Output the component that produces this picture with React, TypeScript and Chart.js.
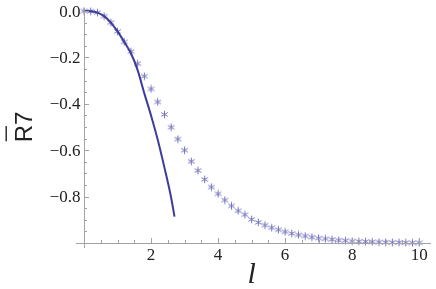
import React, { useEffect, useRef } from "react";
import { Chart, registerables } from "chart.js";

Chart.register(...registerables);

// Asterisk series (numerical R̄7 vs l)
const pointL = [
  0, 0.2, 0.4, 0.6, 0.8, 1.0, 1.2, 1.4, 1.6, 1.8,
  2.0, 2.2, 2.4, 2.6, 2.8, 3.0, 3.2, 3.4, 3.6, 3.8,
  4.0, 4.2, 4.4, 4.6, 4.8, 5.0, 5.2, 5.4, 5.6, 5.8,
  6.0, 6.2, 6.4, 6.6, 6.8, 7.0, 7.2, 7.4, 7.6, 7.8,
  8.0, 8.2, 8.4, 8.6, 8.8, 9.0, 9.2, 9.4, 9.6, 9.8, 10.0,
];
const pointR = [
  0, -0.001, -0.007, -0.022, -0.05, -0.088, -0.133, -0.175, -0.227, -0.281,
  -0.336, -0.392, -0.446, -0.501, -0.552, -0.6, -0.648, -0.688, -0.726, -0.759,
  -0.788, -0.815, -0.84, -0.861, -0.878, -0.898, -0.911, -0.923, -0.934, -0.943,
  -0.952, -0.959, -0.965, -0.97, -0.975, -0.979, -0.982, -0.985, -0.988, -0.99,
  -0.992, -0.993, -0.994, -0.995, -0.996, -0.997, -0.9975, -0.998, -0.9985, -0.999, -0.999,
];

// Solid curve (approximation)
const lineL = [0, 0.2, 0.4, 0.6, 0.8, 1.0, 1.2, 1.4, 1.6, 1.8, 2.0, 2.2, 2.4, 2.6, 2.7];
const lineR = [0, -0.001, -0.007, -0.022, -0.05, -0.088, -0.133, -0.182, -0.255, -0.355, -0.45, -0.555, -0.675, -0.805, -0.886];

const xTickValues = [2, 4, 6, 8, 10];
const xTickLabels = ["2", "4", "6", "8", "10"];
const xMinorTicks = [0.5, 1, 1.5, 2.5, 3, 3.5, 4.5, 5, 5.5, 6.5, 7, 7.5, 8.5, 9, 9.5];
const yTickValues = [0, -0.2, -0.4, -0.6, -0.8];
const yTickLabels = ["0.0", "\u22120.2", "\u22120.4", "\u22120.6", "\u22120.8"];
const yMinorTicks = [-0.05, -0.1, -0.15, -0.25, -0.3, -0.35, -0.45, -0.5, -0.55, -0.65, -0.7, -0.75, -0.85, -0.9, -0.95];

const LINE_COLOR = "#3c3c9a";
const STAR_COLOR = "#7474bd";
const AXIS_COLOR = "#a3a3a3";
const SERIF = '"Liberation Serif", "Times New Roman", Times, "DejaVu Serif", serif';
const SANS = '"Liberation Sans", Arial, Helvetica, sans-serif';

function makeAsterisk(): HTMLCanvasElement {
  const size = 9;
  const c = document.createElement("canvas");
  c.width = size;
  c.height = size;
  const ctx = c.getContext("2d")!;
  ctx.strokeStyle = STAR_COLOR;
  ctx.lineWidth = 1;
  const cx = size / 2;
  const cy = size / 2;
  const r = 3.8;
  const angles = [90, 30, 150];
  ctx.beginPath();
  for (const a of angles) {
    const rad = (a * Math.PI) / 180;
    ctx.moveTo(cx - r * Math.cos(rad), cy - r * Math.sin(rad));
    ctx.lineTo(cx + r * Math.cos(rad), cy + r * Math.sin(rad));
  }
  ctx.stroke();
  return c;
}

const axesPlugin = {
  id: "mmaAxes",
  afterDatasetsDraw(chart: any) {
    const ctx = chart.ctx as CanvasRenderingContext2D;
    const xs = chart.scales.x;
    const ys = chart.scales.y;
    const x0 = xs.getPixelForValue(0);
    const y0 = ys.getPixelForValue(-1);
    const area = chart.chartArea;
    ctx.save();
    ctx.strokeStyle = AXIS_COLOR;
    ctx.lineWidth = 1;
    ctx.beginPath();
    ctx.moveTo(x0 - 8, y0 + 0.5);
    ctx.lineTo(area.right, y0 + 0.5);
    ctx.moveTo(x0 + 0.5, area.top);
    ctx.lineTo(x0 + 0.5, y0 + 5);
    ctx.stroke();
    ctx.beginPath();
    for (const v of xTickValues) {
      const p = Math.round(xs.getPixelForValue(v)) + 0.5;
      ctx.moveTo(p, y0);
      ctx.lineTo(p, y0 - 5);
    }
    for (const v of xMinorTicks) {
      const p = Math.round(xs.getPixelForValue(v)) + 0.5;
      ctx.moveTo(p, y0);
      ctx.lineTo(p, y0 - 3);
    }
    for (const v of yTickValues) {
      const p = Math.round(ys.getPixelForValue(v)) + 0.5;
      ctx.moveTo(x0, p);
      ctx.lineTo(x0 + 5, p);
    }
    for (const v of yMinorTicks) {
      const p = Math.round(ys.getPixelForValue(v)) + 0.5;
      ctx.moveTo(x0, p);
      ctx.lineTo(x0 + 3, p);
    }
    ctx.stroke();

    ctx.fillStyle = "#222";
    ctx.font = "17px " + SERIF;
    ctx.textBaseline = "alphabetic";
    ctx.textAlign = "center";
    xTickValues.forEach((v, i) => {
      ctx.fillText(xTickLabels[i], xs.getPixelForValue(v), y0 + 17);
    });
    ctx.textAlign = "right";
    yTickValues.forEach((v, i) => {
      ctx.fillText(yTickLabels[i], x0 - 3.5, ys.getPixelForValue(v) + 5.5);
    });

    ctx.font = "italic 30px " + SERIF;
    ctx.textAlign = "center";
    ctx.fillText("l", (xs.getPixelForValue(0) + xs.getPixelForValue(10)) / 2, 283);

    const midY = (ys.getPixelForValue(0) + ys.getPixelForValue(-1)) / 2;
    ctx.translate(32, midY);
    ctx.rotate(-Math.PI / 2);
    ctx.font = "24px " + SANS;
    ctx.textAlign = "left";
    const wR = ctx.measureText("R").width;
    const w7 = ctx.measureText("7").width;
    const start = -(wR + w7) / 2;
    ctx.fillText("R", start, 0);
    ctx.fillText("7", start + wR, 0);
    ctx.fillRect(start + 1, -26.5, wR - 2, 1.4);
    ctx.restore();
  },
};

export default function App() {
  const ref = useRef<HTMLCanvasElement | null>(null);
  useEffect(() => {
    if (!ref.current) return;
    const star = makeAsterisk();
    const chart = new Chart(ref.current, {
      type: "scatter",
      data: {
        datasets: [
          {
            label: "line",
            data: lineL.map((l, i) => ({ x: l, y: lineR[i] })),
            showLine: true,
            borderColor: LINE_COLOR,
            borderWidth: 2,
            pointRadius: 0,
            cubicInterpolationMode: "monotone",
            fill: false,
          },
          {
            label: "points",
            data: pointL.map((l, i) => ({ x: l, y: pointR[i] })),
            showLine: false,
            pointStyle: star,
            pointRadius: 4,
            clip: false,
          } as any,
        ],
      },
      options: {
        animation: false,
        responsive: false,
        devicePixelRatio: 1,
        layout: { padding: { left: 84, right: 0, top: 8, bottom: 46 } },
        plugins: { legend: { display: false }, tooltip: { enabled: false } },
        scales: {
          x: { type: "linear", min: 0, max: 10.353, display: false },
          y: { type: "linear", min: -1, max: 0.013, display: false },
        },
      },
      plugins: [axesPlugin],
    });
    let cancelled = false;
    if ((document as any).fonts && (document as any).fonts.load) {
      Promise.all([
        (document as any).fonts.load("17px " + SERIF),
        (document as any).fonts.load("italic 30px " + SERIF),
        (document as any).fonts.load("24px " + SANS),
      ]).then(() => {
        if (!cancelled) chart.draw();
      }).catch(() => {});
    }
    return () => {
      cancelled = true;
      chart.destroy();
    };
  }, []);
  return (
    <div style={{ position: "absolute", left: 0, top: 0, width: 436, height: 289, background: "#fff" }}>
      <canvas ref={ref} width={436} height={289} style={{ width: 436, height: 289, display: "block" }} />
    </div>
  );
}
